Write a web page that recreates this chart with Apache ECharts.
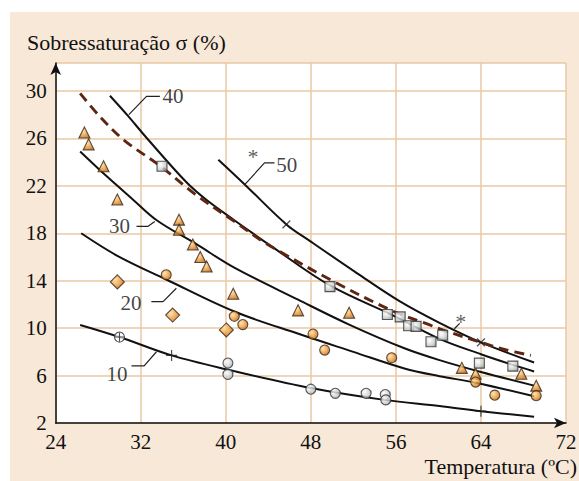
<!DOCTYPE html>
<html>
<head>
<meta charset="utf-8">
<script src="https://cdn.jsdelivr.net/npm/echarts@6/dist/echarts.min.js"></script>
<style>
html,body{margin:0;padding:0;background:#fff;}
#bg{position:absolute;left:10px;top:12px;width:569px;height:469px;background:#f8e8d8;}
#c{position:absolute;left:0;top:0;width:579px;height:481px;}
</style>
</head>
<body>
<div id="bg"></div>
<div id="c"></div>
<script>
// ---- data ----
const line10 = [[26.3,10.27],[30.0,9.25],[34.9,7.7],[40.2,6.5],[48.0,4.95],[54.9,3.95],[60.1,3.43],[64.0,3.0],[69.0,2.53]];
const line20 = [[26.4,18.0],[29.8,16.1],[34.4,14.1],[40.8,11.4],[46.9,9.5],[52.0,8.0],[56.8,6.6],[60.1,5.95],[63.5,5.4],[69.0,4.25]];
const line30 = [[26.3,24.9],[28.8,22.8],[31.2,20.9],[33.5,19.1],[37.2,17.1],[40.8,15.1],[46.8,12.4],[51.6,10.3],[56.8,8.3],[60.1,7.3],[64.0,6.3],[69.0,5.15]];
const line40 = [[29.1,29.6],[30.8,27.9],[32.5,26.1],[36.3,22.3],[38.2,20.8],[40.8,19.1],[44.3,16.9],[49.8,13.6],[55.9,11.0],[60.1,9.1],[64.0,7.8],[67.0,6.9],[69.0,6.35]];
const line50 = [[39.3,24.2],[41.8,22.1],[45.7,18.75],[48.0,17.3],[52.4,14.6],[56.3,12.3],[60.1,10.45],[64.0,8.8],[69.0,7.1]];
const dashedLine = [[26.3,29.8],[28.3,27.7],[30.5,25.8],[33.8,23.7],[37.1,21.3],[40.8,19.0],[43.5,17.3],[45.0,16.5],[50.0,14.0],[55.8,11.4],[58.8,10.4],[60.4,9.85],[64.0,8.8],[66.2,8.2],[68.7,7.7]];

const triangles = [[26.7,26.5],[27.1,25.5],[28.5,23.65],[29.8,20.85],[35.6,19.15],[35.6,18.3],[36.9,17.05],[37.6,16.0],[38.2,15.2],[40.7,12.9],[46.8,11.5],[51.6,11.3],[62.2,6.65],[63.5,6.15],[67.8,6.15],[69.2,5.15]];
const orangeCircles = [[34.4,14.5],[40.8,11.0],[41.6,10.3],[48.2,9.5],[49.3,8.15],[55.6,7.5],[63.5,5.45],[65.3,4.35],[69.2,4.3]];
const diamonds = [[29.8,13.9],[35.0,11.1],[40.05,9.85]];
const grayCircles = [[40.2,7.05],[40.2,6.1],[48.0,4.85],[50.3,4.5],[53.2,4.5],[55.0,4.4],[55.05,3.95]];
const squares = [[34.0,23.65],[49.8,13.5],[55.2,11.15],[56.4,10.95],[57.2,10.2],[57.9,10.15],[59.3,8.85],[60.4,9.4],[63.85,7.05],[67.0,6.8]];
const crossedCircle = [[30.0,9.25]];
const ticks50 = [[45.7,18.75],[64.0,8.8]];
const ticks10 = [[34.9,7.7],[64.0,3.0]];

const curveLabels = [[35.03,29.55,'40'],[45.73,23.8,'50'],[30.0,18.64,'30'],[31.08,12.15,'20'],[29.77,6.1,'10']];
const starLabels = [[42.55,24.92,'*'],[62.1,10.97,'*']];
const leader40 = [[30.88,28.0],[32.54,29.55],[33.8,29.55]];
const leader50 = [[41.78,22.1],[43.64,23.93],[44.58,23.93]];
const leader30 = [[33.32,19.0],[32.69,18.59],[31.6,18.59]];
const leader20 = [[35.35,13.36],[34.1,12.23],[33.0,12.23]];
const leader10 = [[33.48,8.01],[32.32,6.81],[31.13,6.81]];
const leaderStar = [[62.0,10.4],[61.5,9.95]];

const xName = 'Temperatura (ºC)';
const yName = 'Sobressaturação σ (%)';

// ---- chart ----
const serif = '"Liberation Serif","Times New Roman",serif';
const chart = echarts.init(document.getElementById('c'), null, {renderer:'svg', width:579, height:481});

const orangeFill = new echarts.graphic.RadialGradient(0.35,0.35,0.75,[
  {offset:0,color:'#fde0a8'},{offset:0.5,color:'#ec9f40'},{offset:1,color:'#b5621a'}]);
const grayFill = new echarts.graphic.RadialGradient(0.35,0.35,0.8,[
  {offset:0,color:'#ffffff'},{offset:0.55,color:'#cfd3d3'},{offset:1,color:'#8e9595'}]);

function curve(data, dashed){
  return {type:'line', data:data, smooth:0.35, symbol:'none', silent:true, z:3,
    lineStyle: dashed ? {color:'#5e2612', width:2.9, type:[10,6]} : {color:'#111', width:2}};
}
function leader(data){
  return {type:'line', data:data, symbol:'none', silent:true, z:3,
    lineStyle:{color:'#222', width:1.2}};
}
function marks(data, symbol, size, fill, border){
  return {type:'scatter', data:data, symbol:symbol, symbolSize:size, z:5,
    itemStyle:{color:fill, borderColor:border, borderWidth:1.1}};
}
const plusPath = 'path://M0,5L10,5M5,0L5,10';

chart.setOption({
  animation:false,
  grid:{left:55.7, right:13, top:63, bottom:58, show:true, backgroundColor:'#ffffff', borderWidth:0, outerBoundsMode:'none'},
  xAxis:{type:'value', min:24, max:72, interval:8,
    axisLine:{show:true, lineStyle:{color:'#111', width:1.5}, symbol:['none','arrow'], symbolSize:[8,12]},
    axisTick:{show:false},
    axisLabel:{color:'#111', fontSize:21, fontFamily:serif, margin:8},
    splitLine:{show:true, lineStyle:{color:'#e8c9a6', width:1.5}}},
  yAxis:{type:'value', min:2, max:32.36, interval:4,
    axisLine:{show:true, lineStyle:{color:'#111', width:1.5}, symbol:['none','arrow'], symbolSize:[8,12]},
    axisTick:{show:false},
    axisLabel:{color:'#111', fontSize:21, fontFamily:serif, margin:9, showMaxLabel:false},
    splitLine:{show:true, lineStyle:{color:'#e8c9a6', width:1.5}}},
  graphic:[
    {type:'text', left:27, top:31, style:{text:yName, fontSize:22, fontFamily:serif, fill:'#111'}},
    {type:'text', right:2, top:455, style:{text:xName, fontSize:22, fontFamily:serif, fill:'#111'}}
  ],
  series:[
    curve(line10), curve(line20), curve(line30), curve(line40), curve(line50), curve(dashedLine, true),
    leader(leader40), leader(leader50), leader(leader30), leader(leader20), leader(leader10), leader(leaderStar),
    marks(triangles, 'triangle', 11, orangeFill, '#3a2512'),
    marks(orangeCircles, 'circle', 10, orangeFill, '#3a2512'),
    marks(diamonds, 'diamond', 14, orangeFill, '#3a2512'),
    marks(grayCircles, 'circle', 10, grayFill, '#333'),
    marks(squares, 'rect', 10, grayFill, '#333'),
    marks(crossedCircle, 'circle', 10, '#ffffff', '#222'),
    {type:'scatter', data:crossedCircle, symbol:plusPath, symbolSize:9, z:6,
      itemStyle:{color:'none', borderColor:'#222', borderWidth:1.1}},
    {type:'scatter', data:ticks10, symbol:plusPath, symbolSize:11, z:6,
      itemStyle:{color:'none', borderColor:'#222', borderWidth:1.2}},
    {type:'scatter', data:ticks50, symbol:plusPath, symbolSize:11, symbolRotate:45, z:6,
      itemStyle:{color:'none', borderColor:'#222', borderWidth:1.2}},
    {type:'scatter', data:curveLabels, symbolSize:0, z:7, silent:true,
      label:{show:true, position:'inside', formatter:p=>p.value[2], fontSize:21, fontFamily:serif, color:'#111'}},
    {type:'scatter', data:starLabels, symbolSize:0, z:7, silent:true,
      label:{show:true, position:'inside', offset:[0,5], formatter:p=>p.value[2], fontSize:22, fontFamily:serif, color:'#333'}}
  ]
});
</script>
</body>
</html>
